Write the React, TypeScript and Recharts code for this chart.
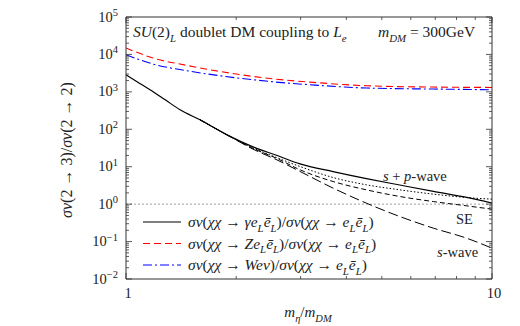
import React from 'react';
import { LineChart, Line, XAxis, YAxis, ReferenceLine } from 'recharts';

// ---------- data ----------
const gammaX = [1, 1.08, 1.163, 1.28, 1.405, 1.593, 1.888, 2.223, 2.6, 2.99, 3.68, 4.54, 5.6, 6.92, 8.53, 10];
const gammaY = [2864, 1790, 1138, 611, 332, 179, 71, 34, 19.6, 11.9, 7.4, 4.8, 3.24, 2.19, 1.51, 1.07];

const dottedX = [1.593, 1.888, 2.223, 2.6, 2.99, 3.68, 4.54, 5.6, 6.92, 8.53, 10];
const dottedY = [179, 71, 31.6, 17.0, 10.1, 5.14, 3.28, 2.41, 1.85, 1.5, 1.36];

const seX = [1.593, 1.888, 2.223, 2.6, 2.99, 3.68, 4.54, 5.6, 6.92, 8.53, 10];
const seY = [179, 71, 30.9, 16.2, 8.26, 4.02, 2.41, 1.6, 1.17, 0.9, 0.735];

const sWaveX = [1.593, 1.888, 2.223, 2.6, 2.99, 3.68, 4.54, 5.6, 6.92, 8.53, 10];
const sWaveY = [179, 71, 29.5, 14.8, 7.45, 2.68, 1.06, 0.466, 0.228, 0.123, 0.0667];

const zX = [1, 1.185, 1.468, 1.806, 2.223, 2.754, 3.18, 4.55, 6.9, 10];
const zY = [14830, 8017, 5082, 3508, 2582, 2042, 1820, 1455, 1343, 1312];

const wX = [1, 1.185, 1.468, 1.806, 2.223, 2.754, 3.18, 4.55, 6.9, 10];
const wY = [9817, 5534, 3664, 2692, 2109, 1718, 1549, 1265, 1189, 1138];

const xTicks = [1, 2, 3, 4, 5, 6, 7, 8, 9, 10];
const xTickLabels: Record<number, string> = { 1: '1', 10: '10' };
const yExponents = [-2, -1, 0, 1, 2, 3, 4, 5];

const yTicks: number[] = [];
yExponents.forEach((e) => {
  yTicks.push(Math.pow(10, e));
  if (e < 5) for (let m = 2; m <= 9; m++) yTicks.push(m * Math.pow(10, e));
});

const pts = (xs: number[], ys: number[]) => xs.map((x, i) => ({ x, y: ys[i] }));

// ---------- style ----------
const FONT = '"Liberation Serif", serif';
const AX = '#333';
const TXT = '#222';

const isMajor = (v: number) => Math.abs(Math.log10(v) - Math.round(Math.log10(v))) < 1e-6;
const expLabel = (e: number) => (e < 0 ? '\u2212' + Math.abs(e) : String(e));

const LeftTick = (p: any) => {
  const { x, y, payload } = p;
  const v = payload.value;
  const maj = isMajor(v);
  const e = Math.round(Math.log10(v));
  return (
    <g>
      <line x1={x} x2={x + (maj ? 6 : 3)} y1={y} y2={y} stroke={AX} strokeWidth={0.8} />
      {maj && (
        <text x={x - 8} y={y + 4.5} textAnchor="end" style={{ fontFamily: FONT, fontSize: 14.5 }} fill={TXT}>
          10<tspan dy={-5.5} style={{ fontSize: 10.5 }}>{expLabel(e)}</tspan>
        </text>
      )}
    </g>
  );
};

const RightTick = (p: any) => {
  const { x, y, payload } = p;
  const maj = isMajor(payload.value);
  return <line x1={x} x2={x - (maj ? 6 : 3)} y1={y} y2={y} stroke={AX} strokeWidth={0.8} />;
};

const BottomTick = (p: any) => {
  const { x, y, payload } = p;
  const v = payload.value;
  const lab = xTickLabels[v];
  return (
    <g>
      <line x1={x} x2={x} y1={y} y2={y - (lab ? 6 : 3)} stroke={AX} strokeWidth={0.8} />
      {lab && (
        <text x={x + 2} y={y + 19} textAnchor="middle" style={{ fontFamily: FONT, fontSize: 14.5 }} fill={TXT}>
          {lab}
        </text>
      )}
    </g>
  );
};

const TopTick = (p: any) => {
  const { x, y, payload } = p;
  const lab = xTickLabels[payload.value];
  return <line x1={x} x2={x} y1={y} y2={y + (lab ? 6 : 3)} stroke={AX} strokeWidth={0.8} />;
};

type Seg = [string, 'n' | 'i' | 's'];
const MathText = ({ x, y, segs, size, anchor = 'start', transform }: any) => {
  let shift = 0;
  return (
    <text x={x} y={y} textAnchor={anchor} fill={TXT} transform={transform} style={{ whiteSpace: 'pre', fontFamily: FONT, fontSize: size }}>
      {(segs as Seg[]).map(([t, k], i) => {
        const target = k === 's' ? size * 0.3 : 0;
        const dy = target - shift;
        shift = target;
        return (
          <tspan key={i} dy={dy} style={{ fontStyle: k === 'n' ? 'normal' : 'italic', fontSize: k === 's' ? size * 0.7 : size, fontFamily: FONT }}>
            {t}
          </tspan>
        );
      })}
    </text>
  );
};

const legendTail: Seg[] = [[')/', 'n'], ['σv', 'i'], ['(', 'n'], ['χχ', 'i'], [' → ', 'n'], ['e', 'i'], ['L', 's'], ['ē', 'i'], ['L', 's'], [')', 'n']];
const legendRows: { segs: Seg[]; color: string; dash: string }[] = [
  { segs: [['σv', 'i'], ['(', 'n'], ['χχ', 'i'], [' → ', 'n'], ['γe', 'i'], ['L', 's'], ['ē', 'i'], ['L', 's'], ...legendTail], color: '#000000', dash: '' },
  { segs: [['σv', 'i'], ['(', 'n'], ['χχ', 'i'], [' → ', 'n'], ['Ze', 'i'], ['L', 's'], ['ē', 'i'], ['L', 's'], ...legendTail], color: '#ff0000', dash: '7 4' },
  { segs: [['σv', 'i'], ['(', 'n'], ['χχ', 'i'], [' → ', 'n'], ['Weν', 'i'], [')/', 'n'], ['σv', 'i'], ['(', 'n'], ['χχ', 'i'], [' → ', 'n'], ['e', 'i'], ['L', 's'], ['ē', 'i'], ['L', 's'], [')', 'n']], color: '#0000ff', dash: '9 3 2 3' },
];

export default function App() {
  return (
    <div style={{ position: 'absolute', left: 0, top: 0, width: 520, height: 326, background: '#fff', fontFamily: FONT }}>
      <LineChart width={520} height={326} margin={{ top: 16, right: 27, bottom: 17, left: 0 }} style={{ fontFamily: FONT }}>
        <XAxis
          xAxisId={0}
          type="number"
          dataKey="x"
          scale="log"
          domain={[1, 10]}
          ticks={xTicks}
          interval={0}
          allowDataOverflow
          height={30}
          tickSize={0}
          tickMargin={0}
          tickLine={false}
          axisLine={{ stroke: AX, strokeWidth: 1 }}
          tick={<BottomTick />}
        />
        <XAxis
          xAxisId="t"
          orientation="top"
          type="number"
          dataKey="x"
          scale="log"
          domain={[1, 10]}
          ticks={xTicks}
          interval={0}
          allowDataOverflow
          height={1}
          tickSize={0}
          tickMargin={0}
          tickLine={false}
          axisLine={{ stroke: AX, strokeWidth: 1 }}
          tick={<TopTick />}
        />
        <YAxis
          yAxisId={0}
          type="number"
          scale="log"
          domain={[0.01, 100000]}
          ticks={yTicks}
          interval={0}
          allowDataOverflow
          width={126}
          tickSize={0}
          tickMargin={0}
          tickLine={false}
          axisLine={{ stroke: AX, strokeWidth: 1 }}
          tick={<LeftTick />}
        />
        <YAxis
          yAxisId="r"
          orientation="right"
          type="number"
          scale="log"
          domain={[0.01, 100000]}
          ticks={yTicks}
          interval={0}
          allowDataOverflow
          width={1}
          tickSize={0}
          tickMargin={0}
          tickLine={false}
          axisLine={{ stroke: AX, strokeWidth: 1 }}
          tick={<RightTick />}
        />
        <ReferenceLine y={1} stroke="#888" strokeWidth={0.8} strokeDasharray="2 2" />
        <Line data={pts(zX, zY)} dataKey="y" type="monotone" stroke="#ff0000" strokeWidth={1.1} strokeDasharray="7 4" dot={false} isAnimationActive={false} />
        <Line data={pts(wX, wY)} dataKey="y" type="monotone" stroke="#0000ff" strokeWidth={1.1} strokeDasharray="9 3 2 3" dot={false} isAnimationActive={false} />
        <Line data={pts(sWaveX, sWaveY)} dataKey="y" type="monotone" stroke="#000" strokeWidth={1} strokeDasharray="10 4" dot={false} isAnimationActive={false} />
        <Line data={pts(seX, seY)} dataKey="y" type="monotone" stroke="#000" strokeWidth={1} strokeDasharray="5 3" dot={false} isAnimationActive={false} />
        <Line data={pts(dottedX, dottedY)} dataKey="y" type="monotone" stroke="#000" strokeWidth={1} strokeDasharray="1.5 2" dot={false} isAnimationActive={false} />
        <Line data={pts(gammaX, gammaY)} dataKey="y" type="monotone" stroke="#000" strokeWidth={1.2} dot={false} isAnimationActive={false} />

        <MathText x={133} y={37} size={15.5} segs={[['SU', 'i'], ['(2)', 'n'], ['L', 's'], [' doublet DM coupling to ', 'n'], ['L', 'i'], ['e', 's']]} />
        <MathText x={378} y={37} size={15.5} segs={[['m', 'i'], ['DM', 's'], [' = 300GeV', 'n']]} />
        <MathText x={383} y={181} size={14.5} segs={[['s', 'i'], [' + ', 'n'], ['p', 'i'], ['-wave', 'n']]} />
        <MathText x={456} y={224} size={14.5} segs={[['SE', 'n']]} />
        <MathText x={437} y={257} size={14.5} segs={[['s', 'i'], ['-wave', 'n']]} />
        <MathText x={308} y={317} size={15} anchor="middle" segs={[['m', 'i'], ['η', 's'], ['/', 'n'], ['m', 'i'], ['DM', 's']]} />
        <MathText x={72} y={150} size={16} anchor="middle" transform="rotate(-90, 72, 150)" segs={[['σv', 'i'], ['(2 → 3)/', 'n'], ['σv', 'i'], ['(2 → 2)', 'n']]} />

        {legendRows.map((r, i) => {
          const cy = 222 + i * 21.5;
          return (
            <g key={i}>
              <line x1={143} x2={181} y1={cy} y2={cy} stroke={r.color} strokeWidth={1.1} strokeDasharray={r.dash || undefined} />
              <MathText x={188} y={cy + 5} size={15.5} segs={r.segs} />
            </g>
          );
        })}
      </LineChart>
    </div>
  );
}
